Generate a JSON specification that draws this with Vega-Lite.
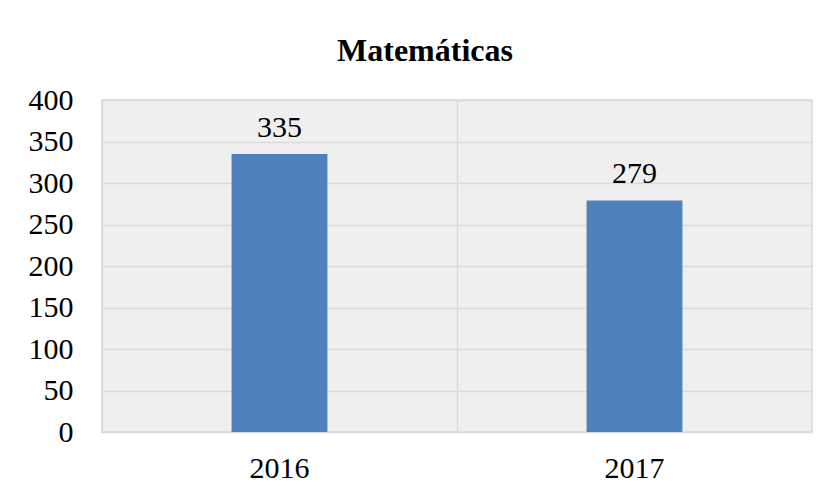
{
  "$schema": "https://vega.github.io/schema/vega-lite/v6.json",
  "autosize": "none",
  "width": 710,
  "height": 332,
  "padding": {"left": 102, "top": 100, "right": 13, "bottom": 63},
  "background": "white",
  "title": {
    "text": "Matemáticas",
    "font": "Liberation Serif",
    "fontSize": 32,
    "fontWeight": "bold",
    "color": "#000000",
    "anchor": "middle",
    "dx": -32,
    "offset": 17
  },
  "config": {
    "view": {"fill": "#efefef", "stroke": "#d9d9d9", "strokeWidth": 1.5},
    "axis": {
      "labelFont": "Liberation Serif",
      "labelFontSize": 30,
      "labelColor": "#000000",
      "gridColor": "#d9d9d9",
      "gridWidth": 1.5,
      "domain": false,
      "ticks": false,
      "title": null
    }
  },
  "data": {
    "values": [
      {"year": "2016", "value": 335},
      {"year": "2017", "value": 279}
    ]
  },
  "layer": [
    {
      "mark": {"type": "bar", "color": "#4f81bd", "width": {"band": 0.27}},
      "encoding": {
        "x": {
          "field": "year",
          "type": "nominal",
          "scale": {"paddingInner": 0, "paddingOuter": 0},
          "axis": {"orient": "bottom", "grid": true, "bandPosition": 0, "labels": false, "ticks": false, "domain": false}
        },
        "y": {
          "field": "value",
          "type": "quantitative",
          "scale": {"domain": [0, 400]},
          "axis": {"values": [0, 50, 100, 150, 200, 250, 300, 350, 400], "grid": true, "labelPadding": 29}
        }
      }
    },
    {
      "mark": {"type": "text", "font": "Liberation Serif", "fontSize": 30, "color": "#000000", "baseline": "alphabetic", "dy": -17},
      "encoding": {
        "x": {
          "field": "year",
          "type": "nominal",
          "axis": {"orient": "bottom", "grid": false, "labelPadding": 21, "labelAngle": 0}
        },
        "y": {"field": "value", "type": "quantitative"},
        "text": {"field": "value", "type": "quantitative"}
      }
    }
  ],
  "resolve": {"axis": {"x": "independent"}}
}
